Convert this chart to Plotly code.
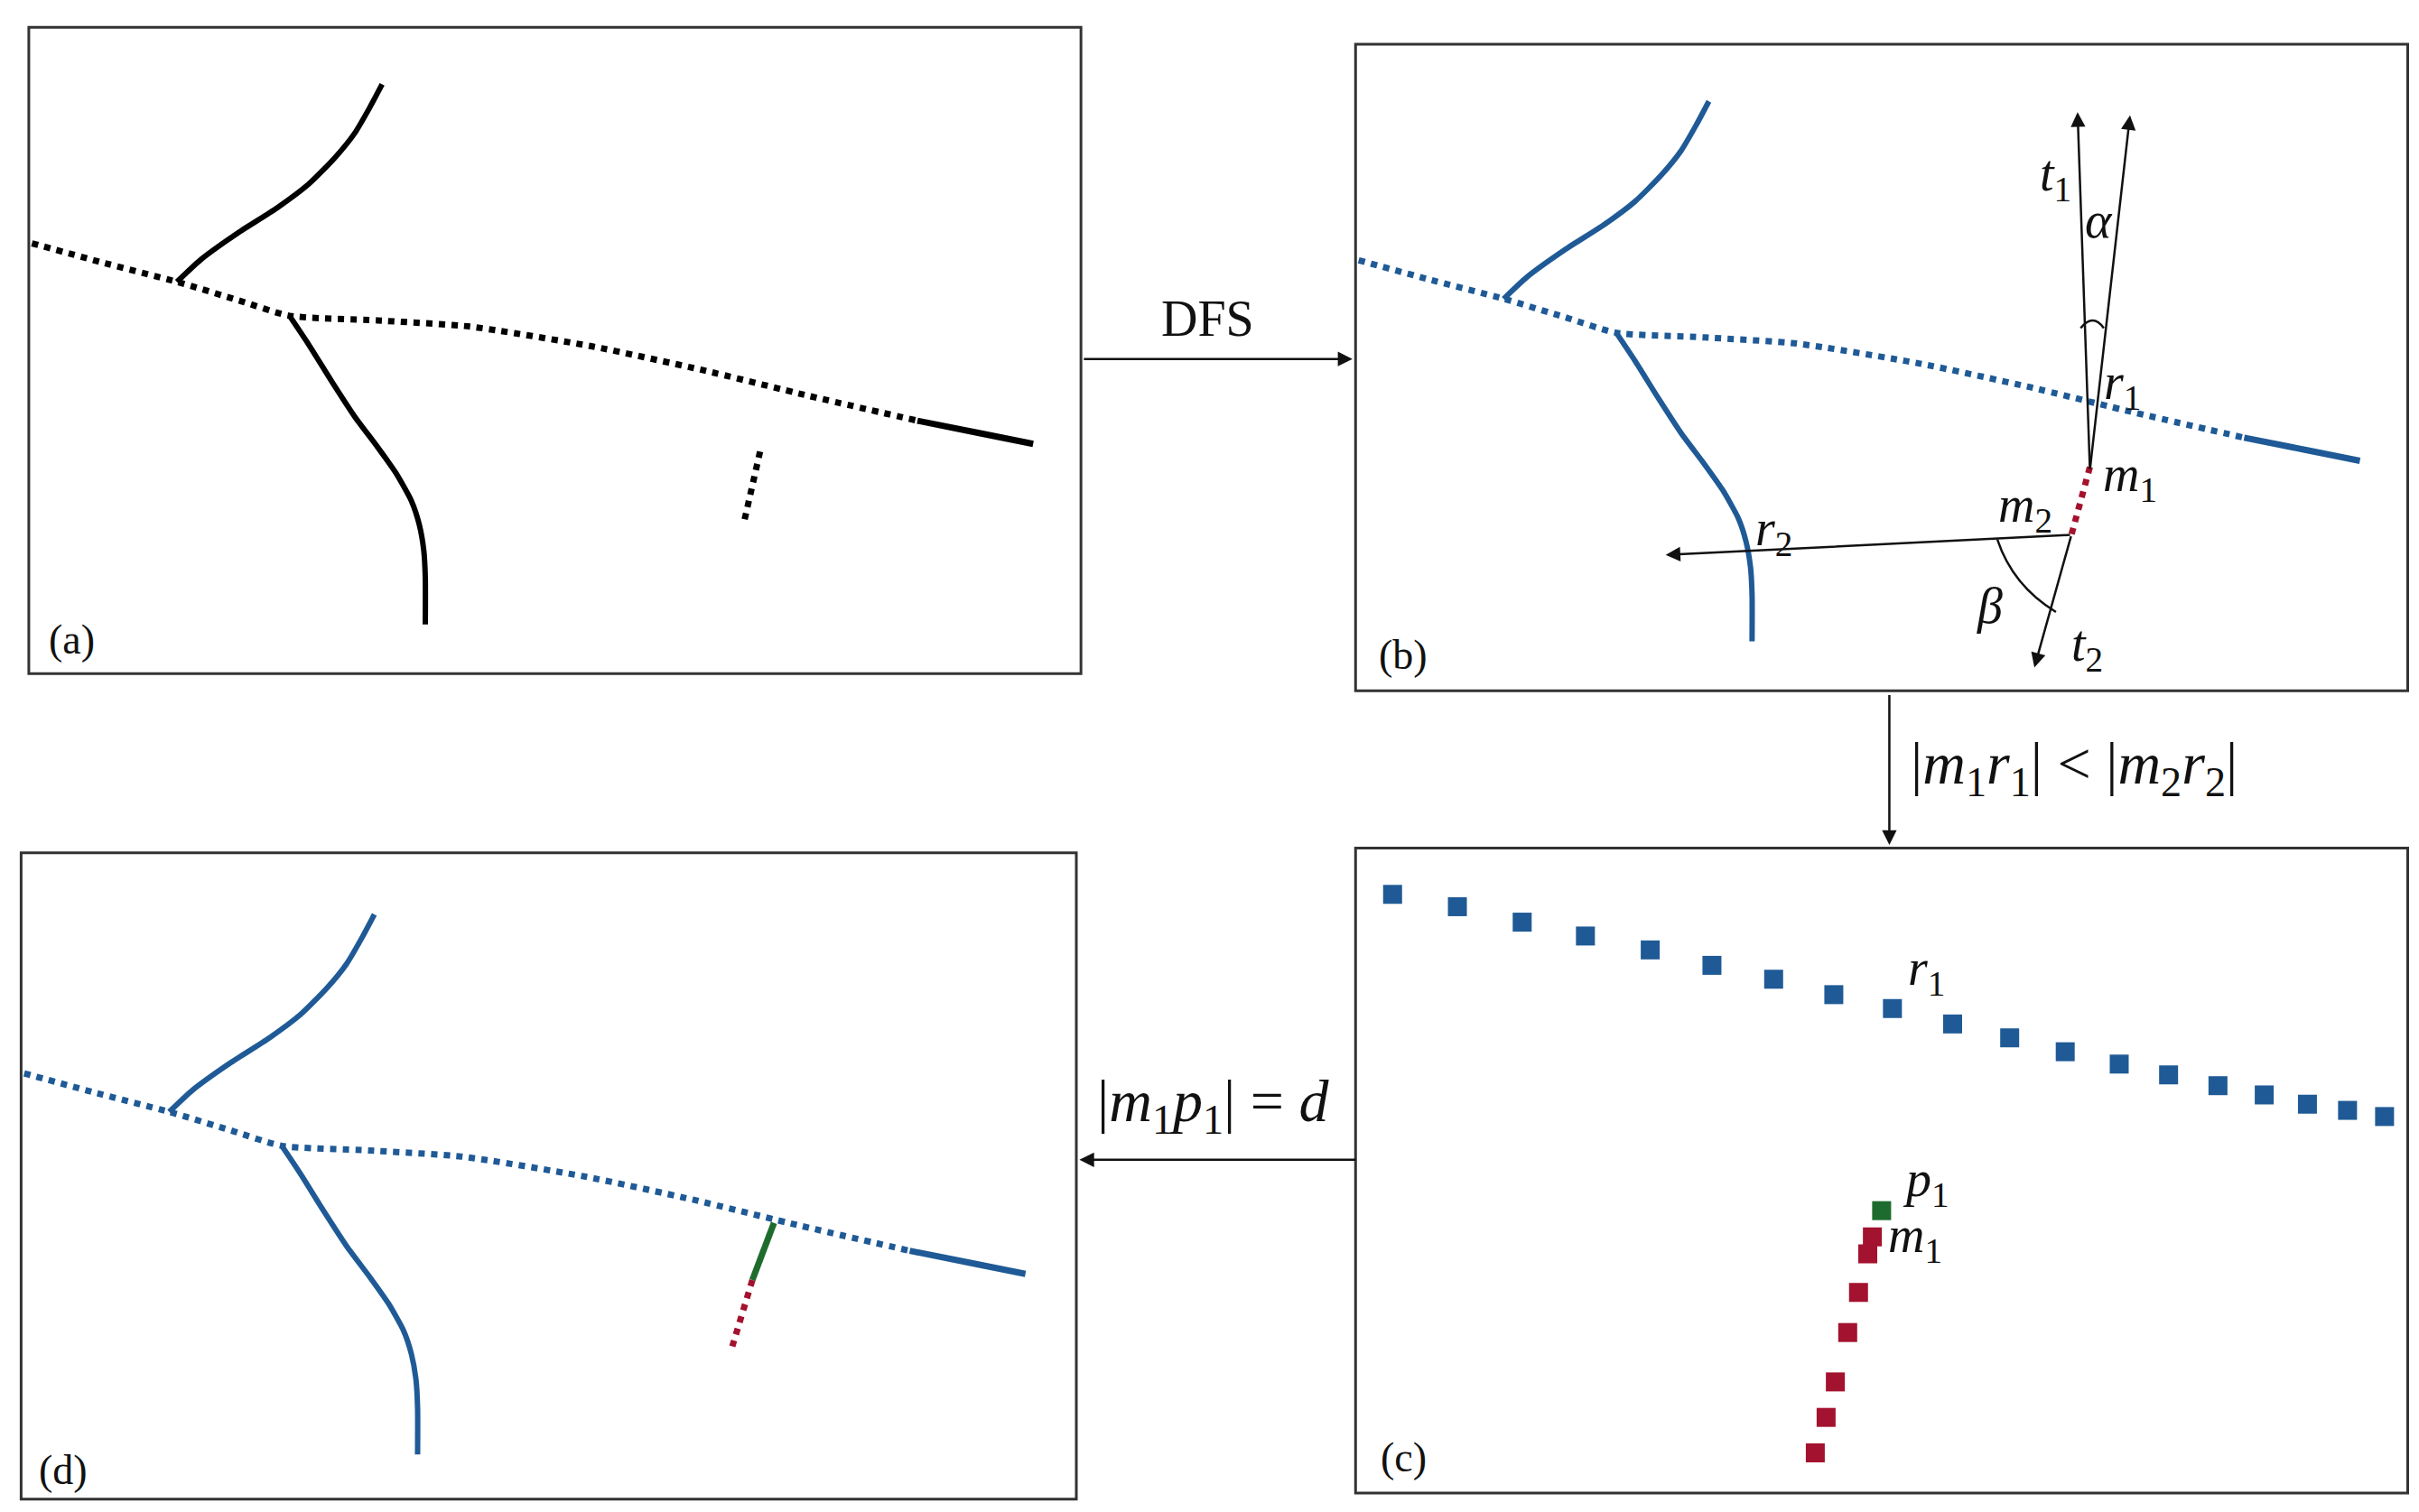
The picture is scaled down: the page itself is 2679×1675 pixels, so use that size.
import plotly.graph_objects as go

BLUE = "#1f5a96"
RED = "#a3122e"
GREEN = "#1e6b2e"

# skeleton polylines of panel (a), in panel-(a) coordinates
main_dotted = [(16,153),(60,165),(110,178),(150,190),(183,200),(240,203),(300,207),(380,220),(450,235),(520,252),(590,268)]
main_solid = [(590,268),(630,276),(665,283)]
branch_up = [(110,178),(125,164),(150,146),(175,130),(195,115),(212,98),(225,82),(235,65),(243,50)]
branch_down = [(183,200),(195,218),(210,242),(225,265),(240,285),(252,302),(262,320),(267,335),(270,352),(271,370),(271,400)]
fragment = [(488,288),(478,332)]

# panel (c) zoomed pixels
c_blue_x = [898,940,982,1023,1065,1105,1145,1184,1222,1261,1298,1334,1369,1401,1433,1463,1491,1517,1541]
c_blue_y = [575,583,593,602,611,621,630,640,649,659,668,677,685,692,699,705,711,715,719]
c_red_x = [1209,1206,1200,1193,1185,1179,1172]
c_red_y = [797,808,833,859,891,914,937]
c_green = (1215,780)

# panel (d) connection
d_green = [(497,788),(483,825)]
d_red = [(483,825),(470,868)]

boxes = [(14,13,696,432),(874,24,1556,443),(874,545,1556,963),(9,548,693,967)]
FONT = "Liberation Serif"

fig = go.Figure()

def line(pts, color, width, dash="solid", dx=0, dy=0):
    fig.add_trace(go.Scatter(x=[p[0]+dx for p in pts], y=[p[1]+dy for p in pts], mode="lines",
                             line=dict(color=color, width=width, dash=dash, shape="spline", smoothing=0.6),
                             hoverinfo="skip"))

for dx, dy, col in [(0,0,"black"),(860,11,BLUE),(-5,538,BLUE)]:
    line(main_dotted, col, 7, "dot", dx, dy)
    line(main_solid, col, 7, "solid", dx, dy)
    line(branch_up, col, 6, "solid", dx, dy)
    line(branch_down, col, 6, "solid", dx, dy)
line(fragment, "black", 7, "dot")
line([(1350,298),(1338,342)], RED, 7, "dot")
line(d_green, GREEN, 7)
line(d_red, RED, 7, "dot")

fig.add_trace(go.Scatter(x=c_blue_x, y=c_blue_y, mode="markers",
                         marker=dict(symbol="square", size=21, color=BLUE), hoverinfo="skip"))
fig.add_trace(go.Scatter(x=c_red_x, y=c_red_y, mode="markers",
                         marker=dict(symbol="square", size=21, color=RED), hoverinfo="skip"))
fig.add_trace(go.Scatter(x=[c_green[0]], y=[c_green[1]], mode="markers",
                         marker=dict(symbol="square", size=21, color=GREEN), hoverinfo="skip"))

for x0,y0,x1,y1 in boxes:
    fig.add_shape(type="rect", x0=x0, y0=y0, x1=x1, y1=y1, line=dict(color="#333", width=3))

def arrow(x0,y0,x1,y1):
    fig.add_annotation(x=x1, y=y1, ax=x0, ay=y0, xref="x", yref="y", axref="x", ayref="y",
                       text="", showarrow=True, arrowhead=2, arrowsize=1.3, arrowwidth=2.5, arrowcolor="#111")

arrow(697,228,872,228)
arrow(1220,445,1220,543)
arrow(875,747,695,747)
arrow(1350,300,1342,68)
arrow(1350,300,1376,70)
arrow(1338,342,1075,355)
arrow(1338,342,1314,428)
fig.add_shape(type="path", path="M 1344,208 Q 1352,198 1359,208", line=dict(color="#111", width=2.5))
fig.add_shape(type="path", path="M 1290,345 Q 1300,375 1328,392", line=dict(color="#111", width=2.5))

def txt(x, y, s, size=56):
    fig.add_annotation(x=x, y=y, xref="x", yref="y", text=s, showarrow=False,
                       font=dict(family=FONT, size=size, color="#111"))

txt(778,202,"DFS",56)
txt(1340,493,"|<i>m</i><sub>1</sub><i>r</i><sub>1</sub>| &lt; |<i>m</i><sub>2</sub><i>r</i><sub>2</sub>|",66)
txt(782,712,"|<i>m</i><sub>1</sub><i>p</i><sub>1</sub>| = <i>d</i>",66)
for x,y,s in [(1328,110,"<i>t</i><sub>1</sub>"),(1356,138,"<i>α</i>"),(1371,245,"<i>r</i><sub>1</sub>"),
              (1376,305,"<i>m</i><sub>1</sub>"),(1308,325,"<i>m</i><sub>2</sub>"),(1145,340,"<i>r</i><sub>2</sub>"),
              (1285,388,"<i>β</i>"),(1348,415,"<i>t</i><sub>2</sub>"),(1244,625,"<i>r</i><sub>1</sub>"),
              (1244,762,"<i>p</i><sub>1</sub>"),(1237,798,"<i>m</i><sub>1</sub>")]:
    txt(x,y,s,56)
for x,y,s in [(42,410,"(a)"),(905,420,"(b)"),(905,940,"(c)"),(36,948,"(d)")]:
    txt(x,y,s,46)

fig.update_layout(width=2679, height=1675, margin=dict(l=0,r=0,t=0,b=0), showlegend=False,
                  plot_bgcolor="white", paper_bgcolor="white",
                  xaxis=dict(range=[0,1568], visible=False, fixedrange=True),
                  yaxis=dict(range=[980,0], visible=False, fixedrange=True))
fig.write_html("out.html")
